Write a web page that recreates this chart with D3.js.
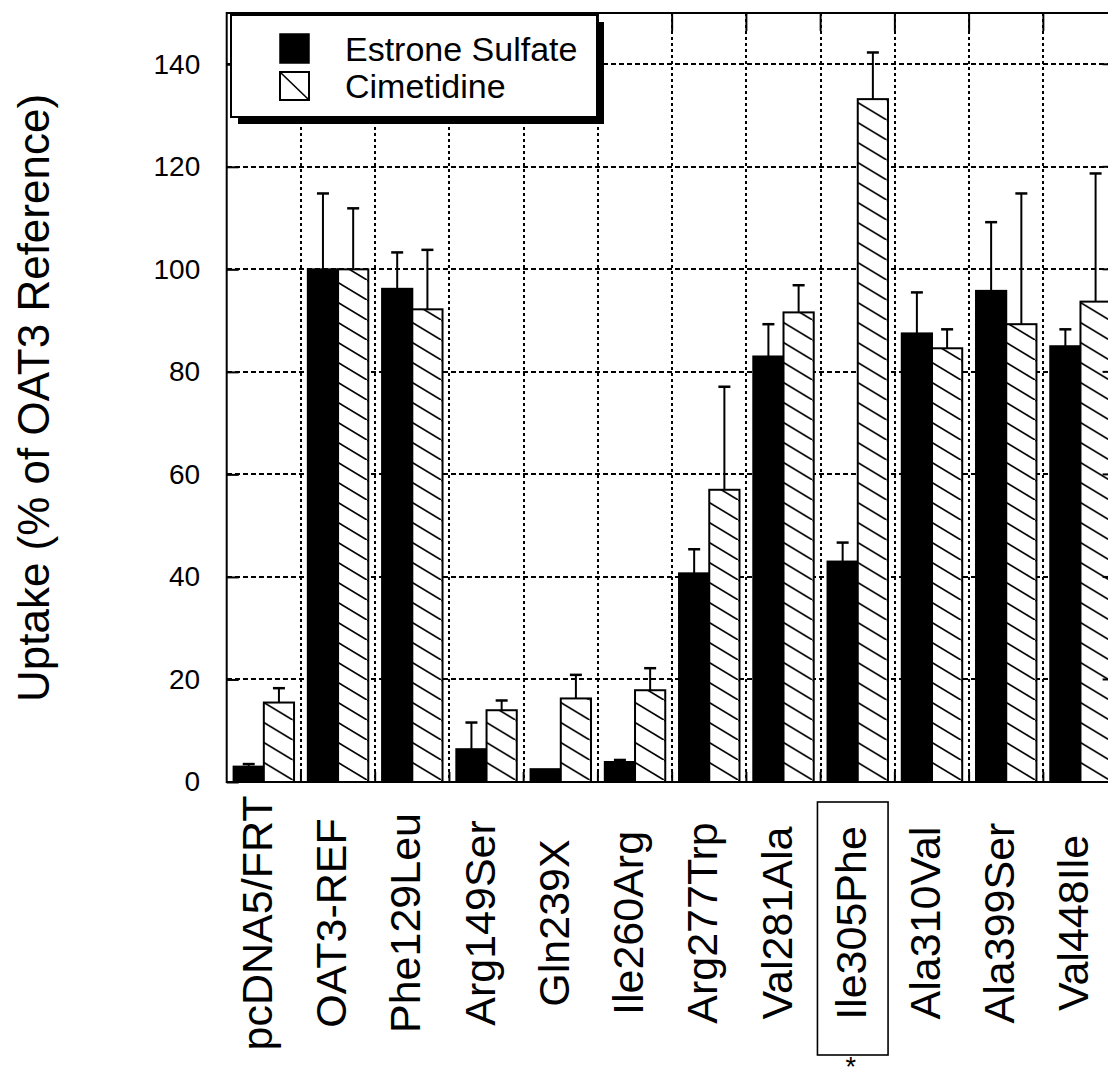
<!DOCTYPE html>
<html>
<head>
<meta charset="utf-8">
<script src="https://cdn.jsdelivr.net/npm/d3@7"></script>
<style>
  html, body { margin: 0; padding: 0; background: #fff; }
  svg { display: block; font-family: "Liberation Sans", Arial, sans-serif; }
</style>
</head>
<body>
<svg id="chart" width="1108" height="1082"></svg>
<script>
// Transporter variants (x categories)
const categories = ["pcDNA5/FRT", "OAT3-REF", "Phe129Leu", "Arg149Ser", "Gln239X", "Ile260Arg",
                    "Arg277Trp", "Val281Ala", "Ile305Phe", "Ala310Val", "Ala399Ser", "Val448Ile"];

// Uptake, % of OAT3 reference (mean and SD)
const estroneSulfate    = [3.0, 100, 96.2, 6.4, 2.5, 3.9, 40.7, 83.0, 43.0, 87.5, 95.8, 85.0];
const estroneSulfateSD  = [0.5, 14.8, 7.1, 5.2, 0, 0.4, 4.7, 6.3, 3.7, 8.0, 13.4, 3.3];
const cimetidine        = [15.5, 100, 92.2, 14.0, 16.3, 17.9, 57.0, 91.6, 133.2, 84.6, 89.3, 93.7];
const cimetidineSD      = [2.8, 11.9, 11.6, 1.9, 4.6, 4.3, 20.1, 5.3, 9.1, 3.7, 25.5, 25.0];

const seriesNames = ["Estrone Sulfate", "Cimetidine"];
const yTicks = [0, 20, 40, 60, 80, 100, 120, 140];
const highlighted = "Ile305Phe";

const svg = d3.select("#chart");

const plotL = 226.7, plotR = 1117.6, plotT = 13, plotB = 782;

const x = d3.scaleBand().domain(categories).range([plotL, plotR]).paddingInner(0).paddingOuter(0);
const bw = x.bandwidth();
const inner = d3.scaleBand().domain(seriesNames).range([6.9, bw - 6.9]).padding(0);
const y = d3.scaleLinear().domain([0, 150]).range([plotB, plotT]);

// Diagonal hatch for the cimetidine bars
const defs = svg.append("defs");
const pw = 33, ph = 20;
defs.append("pattern")
  .attr("id", "hatch")
  .attr("patternUnits", "userSpaceOnUse")
  .attr("width", pw).attr("height", ph)
  .call(p => {
    p.append("rect").attr("width", pw).attr("height", ph).attr("fill", "#fff");
    p.append("path")
      .attr("d", `M0,0L${pw},${ph}M${-pw / 4},${-ph / 4}L${pw / 4},${ph / 4}M${3 * pw / 4},${3 * ph / 4}L${5 * pw / 4},${5 * ph / 4}`)
      .attr("stroke", "#000").attr("stroke-width", 1.6).attr("fill", "none");
  });

// Grid
const grid = svg.append("g").attr("shape-rendering", "crispEdges");
grid.selectAll("line.h").data(yTicks.filter(d => d > 0)).join("line")
  .attr("x1", plotL).attr("x2", plotR)
  .attr("y1", d => y(d)).attr("y2", d => y(d))
  .attr("stroke", "#000").attr("stroke-width", 2).attr("stroke-dasharray", "5,3");
grid.selectAll("line.v").data(categories.slice(1)).join("line")
  .attr("x1", d => x(d)).attr("x2", d => x(d))
  .attr("y1", plotT).attr("y2", plotB)
  .attr("stroke", "#000").attr("stroke-width", 2).attr("stroke-dasharray", "3,3");

// Bars
const rows = categories.map((c, i) => ({
  cat: c,
  vals: [
    { s: seriesNames[0], v: estroneSulfate[i], sd: estroneSulfateSD[i] },
    { s: seriesNames[1], v: cimetidine[i], sd: cimetidineSD[i] }
  ]
}));

const groups = svg.append("g").selectAll("g").data(rows).join("g")
  .attr("transform", d => `translate(${x(d.cat)},0)`);

groups.selectAll("rect").data(d => d.vals).join("rect")
  .attr("x", d => inner(d.s))
  .attr("width", inner.bandwidth())
  .attr("y", d => y(d.v))
  .attr("height", d => y(0) - y(d.v))
  .attr("fill", d => d.s === seriesNames[0] ? "#000" : "url(#hatch)")
  .attr("stroke", "#000").attr("stroke-width", 2);

// Error bars (upper SD)
const eb = groups.selectAll("g.err").data(d => d.vals.filter(v => v.sd > 0)).join("g").attr("class", "err");
eb.append("line")
  .attr("x1", d => inner(d.s) + inner.bandwidth() / 2)
  .attr("x2", d => inner(d.s) + inner.bandwidth() / 2)
  .attr("y1", d => y(d.v)).attr("y2", d => y(d.v + d.sd))
  .attr("stroke", "#000").attr("stroke-width", 2);
eb.append("line")
  .attr("x1", d => inner(d.s) + inner.bandwidth() / 2 - 6)
  .attr("x2", d => inner(d.s) + inner.bandwidth() / 2 + 6)
  .attr("y1", d => y(d.v + d.sd)).attr("y2", d => y(d.v + d.sd))
  .attr("stroke", "#000").attr("stroke-width", 2.5);

// Frame
svg.append("rect")
  .attr("x", plotL).attr("y", plotT).attr("width", plotR - plotL).attr("height", plotB - plotT)
  .attr("fill", "none").attr("stroke", "#000").attr("stroke-width", 2);

// Category ticks on top and bottom edges, value ticks on the right edge
const ticks = svg.append("g").attr("stroke", "#000").attr("stroke-width", 2);
categories.slice(1).forEach(c => {
  ticks.append("line").attr("x1", x(c)).attr("x2", x(c)).attr("y1", plotT).attr("y2", plotT + 18);
  ticks.append("line").attr("x1", x(c)).attr("x2", x(c)).attr("y1", plotB).attr("y2", plotB - 10);
});
yTicks.filter(d => d > 0).forEach(v => {
  ticks.append("line").attr("x1", plotR).attr("x2", plotR - 15).attr("y1", y(v)).attr("y2", y(v));
});

// Y axis
const yAxis = svg.append("g")
  .attr("transform", `translate(${plotL},0)`)
  .call(d3.axisLeft(y).tickValues(yTicks).tickSize(-12).tickPadding(26.5));
yAxis.select(".domain").remove();
yAxis.selectAll(".tick line").attr("stroke", "#000").attr("stroke-width", 2);
yAxis.selectAll(".tick text")
  .attr("font-family", "\"Liberation Sans\", Arial, sans-serif")
  .attr("font-size", 28).attr("fill", "#000");

svg.append("text")
  .attr("transform", "translate(49,398) rotate(-90)")
  .attr("text-anchor", "middle")
  .attr("font-size", 44).attr("fill", "#000")
  .text("Uptake (% of OAT3 Reference)");

// Category labels, rotated
svg.append("g").selectAll("text").data(categories).join("text")
  .attr("transform", d => `translate(${x(d) + bw / 2 + 8},923) rotate(-90)`)
  .attr("text-anchor", "middle")
  .attr("font-size", 43).attr("fill", "#000")
  .text(d => d);

// Highlight box and asterisk for the marked variant
const hx = x(highlighted) + bw / 2 - 5;
svg.append("rect")
  .attr("x", hx - 35.3).attr("y", 802).attr("width", 70.6).attr("height", 253)
  .attr("fill", "none").attr("stroke", "#000").attr("stroke-width", 1.6);
svg.append("text")
  .attr("x", hx - 2).attr("y", 1076)
  .attr("text-anchor", "middle").attr("font-size", 27).attr("fill", "#000")
  .text("*");

// Legend
const lg = svg.append("g");
lg.append("rect").attr("x", 238).attr("y", 22).attr("width", 366).attr("height", 102).attr("fill", "#000");
lg.append("rect").attr("x", 231).attr("y", 15).attr("width", 366).attr("height", 102)
  .attr("fill", "#fff").attr("stroke", "#000").attr("stroke-width", 2);
lg.append("rect").attr("x", 280).attr("y", 34).attr("width", 29).attr("height", 29)
  .attr("fill", "#000").attr("stroke", "#000").attr("stroke-width", 1.5);
lg.append("rect").attr("x", 280).attr("y", 72).attr("width", 29).attr("height", 28)
  .attr("fill", "#fff").attr("stroke", "#000").attr("stroke-width", 2);
lg.append("line").attr("x1", 281).attr("y1", 73).attr("x2", 308).attr("y2", 99)
  .attr("stroke", "#000").attr("stroke-width", 1.6);
lg.selectAll("text").data(seriesNames).join("text")
  .attr("x", 345).attr("y", (d, i) => i === 0 ? 60.5 : 98)
  .attr("font-size", 34).attr("fill", "#000")
  .text(d => d);
</script>
</body>
</html>
